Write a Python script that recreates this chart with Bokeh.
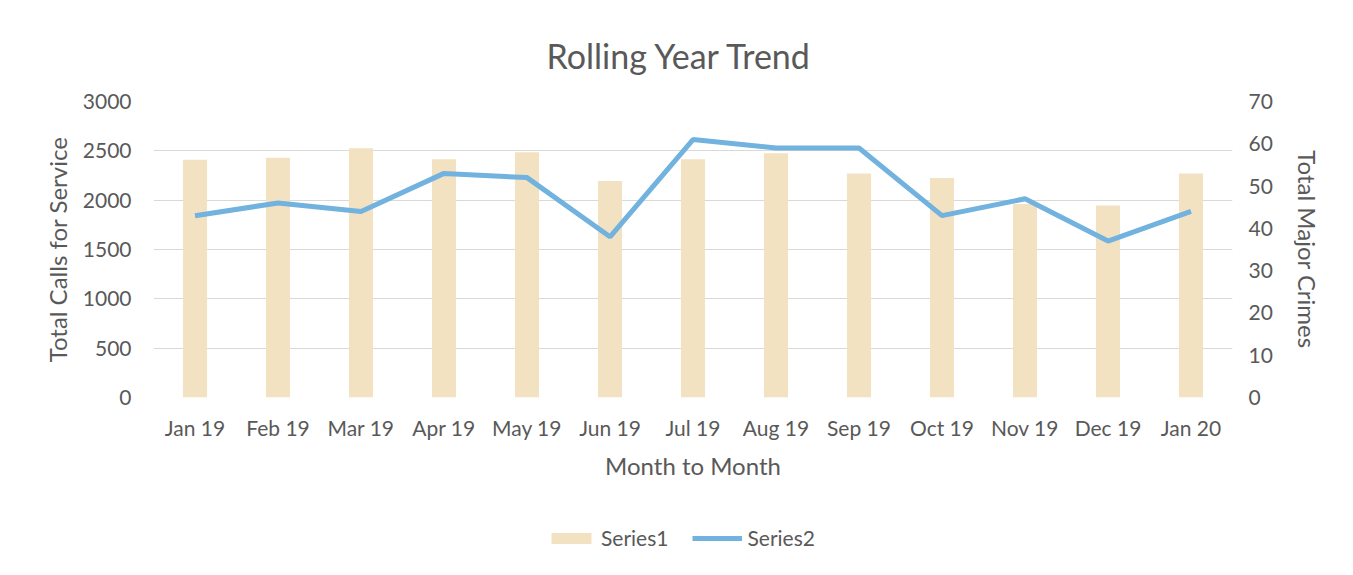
from bokeh.plotting import figure
from bokeh.models import Range1d, LinearAxis, Legend, LegendItem, FactorRange, ColumnDataSource
from bokeh.layouts import column
from bokeh.embed import file_html
from bokeh.resources import INLINE

months = ["Jan 19", "Feb 19", "Mar 19", "Apr 19", "May 19", "Jun 19", "Jul 19",
          "Aug 19", "Sep 19", "Oct 19", "Nov 19", "Dec 19", "Jan 20"]
calls = [2410, 2430, 2525, 2415, 2485, 2195, 2415, 2475, 2270, 2225, 1960, 1945, 2270]
crimes = [43, 46, 44, 53, 52, 38, 61, 59, 59, 43, 47, 37, 44]
series_names = ["Series1", "Series2"]

FONT = "Lato"
GREY = "#595959"
BAR_COLOR = "#F3E2C1"
LINE_COLOR = "#71B2DE"

src = ColumnDataSource(dict(m=months, calls=calls, crimes=crimes))

p = figure(width=1353, height=500, x_range=FactorRange(*months, range_padding=0.0),
           y_range=Range1d(0, 3000), output_backend="svg", toolbar_location=None,
           min_border_left=153, min_border_right=121, min_border_top=101, min_border_bottom=103)
p.extra_y_ranges = {"right": Range1d(0, 70)}

p.title.text = "Rolling Year Trend"
p.title.text_font = FONT
p.title.text_font_size = "34px"
p.title.text_font_style = "normal"
p.title.text_color = GREY
p.title.align = "left"
p.title.offset = 393
p.title.standoff = 51

p.vbar(x="m", top="calls", width=0.29, source=src, fill_color=BAR_COLOR, line_color=None)
p.line(x="m", y="crimes", source=src, y_range_name="right", line_color=LINE_COLOR, line_width=5)

ax2 = LinearAxis(y_range_name="right", axis_label="Total Major Crimes")
p.add_layout(ax2, "right")

p.yaxis[0].axis_label = "Total Calls for Service"
p.xaxis.axis_label = "Month to Month"
p.yaxis[0].ticker = [0, 500, 1000, 1500, 2000, 2500, 3000]
ax2.ticker = [0, 10, 20, 30, 40, 50, 60, 70]

for ax in [p.xaxis[0], p.yaxis[0], ax2]:
    ax.axis_line_color = None
    ax.major_tick_line_color = None
    ax.minor_tick_line_color = None
    ax.major_label_text_font = FONT
    ax.major_label_text_font_size = "21px"
    ax.major_label_text_color = GREY
    ax.axis_label_text_font = FONT
    ax.axis_label_text_font_size = "24px"
    ax.axis_label_text_font_style = "normal"
    ax.axis_label_text_color = GREY

p.xaxis.major_label_standoff = 11
p.xaxis.axis_label_standoff = 8
p.yaxis[0].major_label_standoff = 16
p.yaxis[0].axis_label_standoff = 8
ax2.major_label_standoff = 10
ax2.axis_label_standoff = 17

p.xgrid.grid_line_color = None
p.ygrid.grid_line_color = "#D9D9D9"
p.ygrid.grid_line_width = 1
p.outline_line_color = None

# legend strip below the chart (proxies are zero-size / out of view; only the legend shows)
pl = figure(width=1353, height=75, x_range=FactorRange(*months), y_range=Range1d(-2, -1),
            output_backend="svg", toolbar_location=None, min_border=0)
pl.axis.visible = False
pl.grid.visible = False
pl.outline_line_color = None
r1 = pl.vbar(x="m", top="calls", bottom="calls", width=0, source=src,
             fill_color=BAR_COLOR, line_color=None)
r2 = pl.line(x="m", y="crimes", source=src, line_color=LINE_COLOR, line_width=5)

legend = Legend(items=[LegendItem(label=series_names[0], renderers=[r1]),
                       LegendItem(label=series_names[1], renderers=[r2])],
                orientation="horizontal", location=(393, 25),
                label_text_font=FONT, label_text_font_size="21px", label_text_color=GREY,
                glyph_width=50, glyph_height=14, spacing=24, label_standoff=5,
                background_fill_alpha=0, border_line_color=None, padding=0, margin=0)
pl.add_layout(legend, "center")

layout = column(p, pl, spacing=0)
open("out.html", "w").write(file_html(layout, INLINE))
